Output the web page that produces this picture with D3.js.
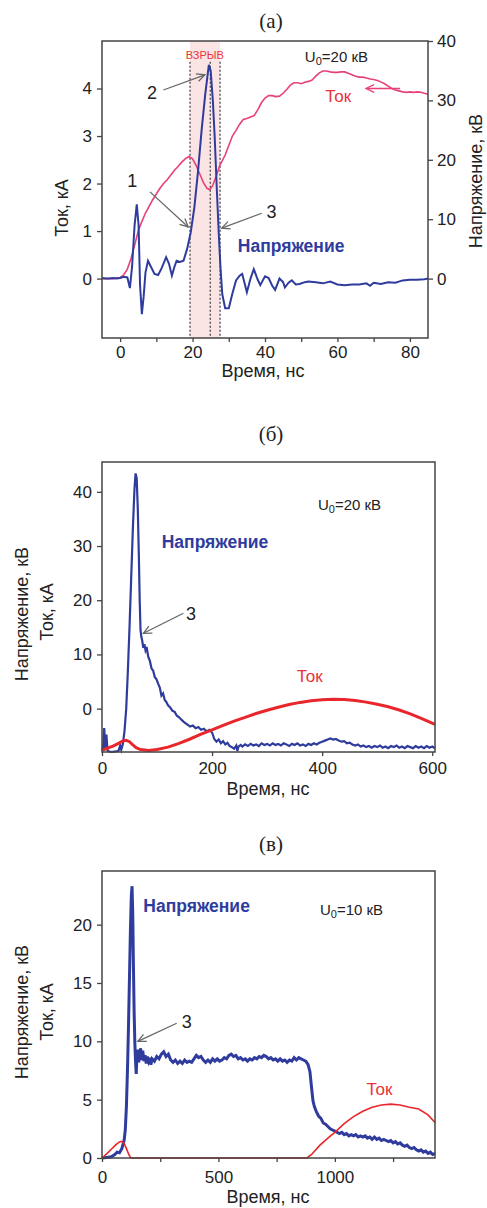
<!DOCTYPE html>
<html>
<head>
<meta charset="utf-8">
<script src="https://cdn.jsdelivr.net/npm/d3@7"></script>
<style>
body { margin: 0; background: #fff; }
svg text { font-family: "Liberation Sans", Arial, sans-serif; }
</style>
</head>
<body>
<div id="chart"></div>
<script>
// ---- panel (а): t [ns] ----
const currentA = [ // [t, kA]
  [-5,0],[-2,0],[0,0.02],[1,0.08],[2,0.2],[3,0.42],[4,0.7],[5,1.0],[6,1.2],[7,1.38],[8,1.52],[9,1.66],
  [10,1.78],[11,1.9],[12,2.0],[13,2.08],[14,2.18],[15,2.28],[16,2.36],[17,2.45],[18,2.52],[19,2.57],
  [20,2.52],[21,2.38],[22,2.2],[23,2.02],[24,1.9],[24.7,1.87],[25.5,1.95],[26.5,2.15],[27.5,2.38],
  [28,2.45],[29,2.6],[30,2.8],[31,3.0],[32,3.12],[33,3.25],[34,3.35],[35,3.37],[36,3.4],[37,3.43],
  [38,3.55],[39,3.7],[40,3.8],[41,3.85],[42,3.85],[43,3.83],[44,3.84],[45,3.9],[46,3.98],[47,4.07],
  [48,4.12],[49,4.12],[50,4.1],[51,4.13],[52,4.15],[53,4.18],[54,4.26],[55,4.33],[56,4.37],[57,4.37],
  [58,4.35],[59,4.34],[60,4.34],[61,4.35],[62,4.35],[63,4.32],[64,4.29],[65,4.26],[66,4.24],[67,4.24],
  [68,4.22],[69,4.2],[70,4.19],[71,4.17],[72,4.14],[73,4.1],[74,4.05],[75,4.0],[76,3.97],[77,3.95],
  [78,3.93],[79,3.92],[80,3.93],[81,3.92],[82,3.93],[83,3.92],[84,3.9],[85,3.88]
];
const voltageA = [ // [t, kV]
  [-5,0.1],[-4,0],[-3,0],[-2,0.1],[-1,0],[0,0.1],[1,0.3],[2,0.2],[2.7,-1.6],[3.3,2],[4,9],[4.6,12.5],
  [5.1,9],[5.5,-1],[6,-6],[6.5,-3],[7,1],[7.7,3],[8.5,2],[9.5,0.8],[10.5,0.6],[11.5,1.8],[12.7,3.6],
  [13.5,2.5],[14.3,0.5],[15,2],[15.6,3],[16.5,2.8],[17.5,3],[18.5,5],[19.5,7.8],[20.5,12],[21.5,18],
  [22.5,25],[23.5,31],[24.5,36],[25,35],[25.6,30],[26.1,24],[26.7,15],[27.2,8],[27.7,2],[28.2,-2.6],
  [29,-5],[30,-5],[31,-2.5],[32,-0.3],[33,0.5],[33.7,0.8],[35,-2.3],[36,0],[36.9,1.6],[38,-0.2],
  [38.7,-1.1],[40,0.4],[41,0.1],[42,-1.2],[42.8,-1.9],[44,0],[45,-0.6],[45.5,-1.5],[46.5,-0.7],
  [47.4,-0.3],[48.5,-1],[49.5,-0.9],[51,-0.6],[52,-0.5],[54,-0.6],[56,-0.8],[58,-0.5],[60,-1],
  [62,-1.1],[64,-1],[66,-1.0],[68,-0.8],[69,-1.2],[70,-0.7],[72,-0.9],[74,-0.6],[76,-0.7],[78,-0.3],
  [80,-0.2],[82,-0.2],[84,-0.1],[85,0]
];
const explosionLines = [19.3, 24.9, 27.6];
const ticksAx = [0, 10, 20, 30, 40, 50, 60, 70, 80];
const ticksAleft = [0, 1, 2, 3, 4];
const ticksAright = [0, 10, 20, 30, 40];

// ---- panel (б) ----
const voltageB = [
  [0,-7.6],[2,-7.2],[4,-3.6],[6,-7.4],[8,-4.8],[10,-7.7],[13,-7.9],[18,-8],[25,-7.9],[30,-7.8],
  [33,-6.8],[35,-7.6],[38,-6.5],[41,-4],[44,0],[47,7],[50,15],[53,24],[56,33],[59,40.5],[61,43.4],
  [63,42.5],[65,37],[67,28],[68.5,20],[70,14.5],[71.5,13.2],[73,12.6],[75,11.2],[77,11.9],[79,10.8],
  [81,11.4],[84,9.6],[87,8.8],[90,7.4],[93,7.0],[96,5.8],[99,5.4],[102,4.6],[105,3.9],[108,2.4],
  [111,2.8],[114,1.6],[117,1.2],[120,0.6],[124,0.2],[128,-0.4],[132,-0.6],[136,-1.3],[140,-1.6],
  [144,-2.0],[148,-2.4],[152,-2.7],[156,-3.0],[160,-3.3],[165,-3.1],[170,-3.6],[175,-3.4],[180,-3.9],
  [185,-3.7],[190,-4.2],[195,-3.9],[200,-4.4],[204,-5.6],[208,-6.1],[212,-5.7],[216,-6.4],[220,-6.0],
  [224,-6.6],[228,-6.3],[232,-6.9],[236,-7.1],[240,-7.4],[244,-6.8],[246,-7.8],[248,-7.0],[252,-6.7],
  [255,-7.0],[260,-6.6],[265,-6.9],[270,-6.5],[275,-6.8],[280,-6.6],[285,-6.9],[290,-6.4],[295,-6.7],
  [300,-6.5],[305,-6.8],[310,-6.4],[315,-6.7],[320,-6.5],[325,-6.8],[330,-6.4],[335,-6.6],[340,-6.9],
  [345,-6.5],[350,-6.7],[355,-6.4],[360,-6.8],[365,-6.6],[370,-6.9],[375,-6.5],[380,-6.7],[385,-6.4],
  [390,-6.6],[395,-6.3],[400,-6.1],[405,-5.9],[410,-5.7],[415,-5.5],[420,-5.7],[425,-5.6],[430,-5.9],
  [435,-6.1],[440,-6.0],[445,-6.4],[450,-6.3],[455,-6.6],[460,-6.8],[465,-6.6],[470,-7.0],[475,-6.8],
  [480,-7.1],[485,-6.9],[490,-7.2],[495,-6.9],[500,-7.1],[505,-6.8],[510,-7.2],[515,-7.0],[520,-7.3],
  [525,-6.9],[530,-7.1],[535,-6.8],[540,-7.2],[545,-7.0],[550,-7.3],[555,-6.9],[560,-7.1],[565,-7.3],
  [570,-6.9],[575,-7.2],[580,-7.0],[585,-7.3],[590,-6.9],[595,-7.2],[600,-7.0],[605,-7.3]
];
const currentB = [
  [0,-7.7],[10,-7.3],[20,-6.9],[30,-6.4],[38,-5.95],[44,-5.85],[50,-6.1],[56,-6.7],[62,-7.2],[70,-7.55],
  [85,-7.7],[100,-7.55],[120,-7.1],[140,-6.4],[160,-5.6],[180,-4.7],[200,-3.9],[220,-3.1],[240,-2.3],
  [260,-1.6],[280,-0.9],[300,-0.3],[320,0.25],[340,0.75],[360,1.15],[380,1.45],[400,1.65],[420,1.72],
  [440,1.68],[460,1.5],[480,1.2],[500,0.8],[520,0.35],[540,-0.25],[560,-0.95],[580,-1.8],[605,-2.9]
];
const ticksBx = [0, 200, 400, 600];
const ticksBy = [0, 10, 20, 30, 40];

// ---- panel (в) ----
const voltageC = [
  [0,0],[20,0.05],[40,0.1],[55,0.3],[65,0.5],[75,0.45],[85,0.8],[95,1.5],[100,2.4],[105,4.5],[110,8],
  [114,11.5],[118,15.5],[122,19.5],[126,22.5],[129,23.3],[132,21],[135,16.5],[138,12.5],[141,9.9],
  [144,8.3],[147,7.2],[150,8.8],[154,9.3],[158,8.2],[162,8.9],[166,9.4],[170,8.4],[175,9.2],[180,8.3],
  [185,8.8],[190,8.1],[195,8.7],[200,8.3],[205,8.6],[210,8.0],[215,8.5],[225,8.3],[235,8.7],[245,8.5],
  [255,8.9],[265,9.1],[275,8.7],[285,8.9],[295,8.4],[305,8.2],[315,8.4],[325,8.1],[335,8.3],[345,8.1],
  [355,8.4],[365,8.2],[375,8.3],[385,8.2],[395,8.5],[405,8.8],[415,8.6],[425,8.7],[435,8.4],[445,8.2],
  [455,8.4],[465,8.2],[475,8.5],[485,8.3],[495,8.5],[505,8.3],[515,8.4],[525,8.6],[535,8.5],[545,8.8],
  [555,8.9],[565,8.7],[575,8.8],[585,8.5],[595,8.6],[605,8.4],[615,8.5],[625,8.3],[635,8.5],[645,8.4],
  [655,8.6],[665,8.5],[675,8.7],[685,8.6],[695,8.8],[705,8.7],[715,8.5],[725,8.6],[735,8.4],[745,8.5],
  [755,8.3],[765,8.5],[775,8.3],[785,8.4],[795,8.2],[805,8.4],[815,8.3],[825,8.6],[835,8.4],[845,8.6],
  [855,8.5],[865,8.4],[875,8.3],[885,8.0],[893,7.4],[900,6.0],[906,4.9],[912,4.4],[920,4.0],[930,3.6],
  [940,3.4],[950,3.0],[960,2.9],[970,2.7],[980,2.5],[990,2.4],[1000,2.3],[1010,2.2],[1020,2.1],
  [1030,2.2],[1040,2.0],[1050,2.1],[1060,1.9],[1070,2.0],[1080,1.9],[1090,2.0],[1100,1.8],[1110,1.9],
  [1120,1.8],[1130,1.9],[1140,1.7],[1150,1.8],[1160,1.6],[1170,1.8],[1180,1.6],[1190,1.7],[1200,1.5],
  [1210,1.6],[1220,1.5],[1230,1.4],[1240,1.5],[1250,1.3],[1260,1.4],[1270,1.2],[1280,1.3],[1290,1.1],
  [1300,1.0],[1310,1.1],[1320,0.9],[1330,0.8],[1340,0.9],[1350,0.7],[1360,0.6],[1370,0.7],[1380,0.5],
  [1390,0.6],[1400,0.4],[1410,0.5],[1420,0.3],[1430,0.4]
];
const currentC = [
  [0,0],[20,0.35],[40,0.75],[60,1.15],[75,1.38],[85,1.42],[95,1.25],[105,0.8],[115,0.3],[122,0.05],
  [130,0],[880,0],[900,0.3],[936,1.1],[970,1.7],[1000,2.2],[1040,2.95],[1080,3.55],[1120,4.0],
  [1160,4.35],[1200,4.55],[1240,4.62],[1280,4.55],[1320,4.35],[1360,4.2],[1400,3.7],[1430,3.05]
];
const ticksCx = [0, 250, 500, 750, 1000, 1250];
const ticksCy = [0, 5, 10, 15, 20];

// colours
const blue = "#2f3c9d", red = "#e8262b", pink = "#e8407a", textRed = "#e8333a", frame = "#444", arrowGrey = "#666";

const svg = d3.select("#chart").append("svg")
    .attr("width", 487)
    .attr("height", 1208)
    .style("background", "#fff");

// gray arrow with open head at (x2, y2)
function arrow(g, x1, y1, x2, y2, color) {
    const a = Math.atan2(y2 - y1, x2 - x1);
    const L = 9, s = 0.45;
    g.append("line").attr("x1", x1).attr("y1", y1).attr("x2", x2).attr("y2", y2)
        .attr("stroke", color).attr("stroke-width", 1.3);
    g.append("path")
        .attr("d", `M${x2 - L * Math.cos(a - s)},${y2 - L * Math.sin(a - s)}L${x2},${y2}L${x2 - L * Math.cos(a + s)},${y2 - L * Math.sin(a + s)}`)
        .attr("fill", "none").attr("stroke", color).attr("stroke-width", 1.3);
}

function styleAxis(sel) {
    sel.select(".domain").remove();
    sel.selectAll(".tick line").attr("stroke", frame).attr("stroke-width", 1.3);
    sel.selectAll(".tick text").attr("fill", "#222").style("font-size", "17px")
        .style("font-family", '"Liberation Sans", Arial, sans-serif');
}

function frameBox(g, x, y) {
    g.append("rect")
        .attr("x", x.range()[0]).attr("y", y.range()[1])
        .attr("width", x.range()[1] - x.range()[0])
        .attr("height", y.range()[0] - y.range()[1])
        .attr("fill", "none").attr("stroke", frame).attr("stroke-width", 1.5);
}

function panelLabel(txt, y) {
    svg.append("text").attr("x", 271).attr("y", y).attr("text-anchor", "middle")
        .style("font-family", '"Liberation Serif", "Times New Roman", serif')
        .style("font-size", "21px").attr("fill", "#222").text(txt);
}

function vTitle(txt, x, y) {
    svg.append("text").attr("transform", `translate(${x},${y}) rotate(-90)`)
        .attr("text-anchor", "middle").style("font-size", "18px").attr("fill", "#222").text(txt);
}

function uLabel(g, x, y, val) {
    const t = g.append("text").attr("x", x).attr("y", y).style("font-size", "15px").attr("fill", "#222");
    t.append("tspan").text("U");
    t.append("tspan").attr("dy", 3).style("font-size", "11px").text("0");
    t.append("tspan").attr("dy", -3).text(`=${val} кВ`);
}

function numLabel(g, x, y, txt) {
    g.append("text").attr("x", x).attr("y", y).style("font-size", "18px").attr("fill", "#222").text(txt);
}

const fmt = d3.format("d");

// ================= panel (а) =================
{
    const g = svg.append("g");
    const x = d3.scaleLinear().domain([-5, 85]).range([102, 428]);
    const yI = d3.scaleLinear().domain([-1.25, 5]).range([338, 41]);
    const yU = d3.scaleLinear().domain([-10, 40]).range([338, 41]);

    panelLabel("(а)", 28);

    // explosion region
    g.append("rect")
        .attr("x", x(explosionLines[0])).attr("y", yU(40))
        .attr("width", x(explosionLines[2]) - x(explosionLines[0]))
        .attr("height", yU(-10) - yU(40))
        .attr("fill", "#fbe4e4");
    g.selectAll(".ex").data(explosionLines).enter().append("line")
        .attr("x1", d => x(d)).attr("x2", d => x(d))
        .attr("y1", yU(36.5)).attr("y2", yU(-10))
        .attr("stroke", "#555").attr("stroke-width", 1.4).attr("stroke-dasharray", "2,2");

    g.append("text").attr("x", x(23.4)).attr("y", yU(36.9)).attr("text-anchor", "middle")
        .style("font-size", "11px").attr("fill", textRed).text("ВЗРЫВ");

    const lineI = d3.line().x(d => x(d[0])).y(d => yI(d[1]));
    const lineU = d3.line().x(d => x(d[0])).y(d => yU(d[1]));
    g.append("path").datum(currentA).attr("d", lineI)
        .attr("fill", "none").attr("stroke", pink).attr("stroke-width", 1.6);
    g.append("path").datum(voltageA).attr("d", lineU)
        .attr("fill", "none").attr("stroke", blue).attr("stroke-width", 2);

    frameBox(g, x, yU);

    g.append("g").attr("transform", "translate(0,338)")
        .call(d3.axisBottom(x).tickValues(ticksAx).tickSize(4).tickPadding(4)
            .tickFormat(d => d % 20 === 0 ? fmt(d) : ""))
        .call(styleAxis);
    g.append("g").attr("transform", "translate(102,0)")
        .call(d3.axisLeft(yI).tickValues(ticksAleft).tickSize(5).tickPadding(5).tickFormat(fmt))
        .call(styleAxis);
    g.append("g").attr("transform", "translate(428,0)")
        .call(d3.axisRight(yU).tickValues(ticksAright).tickSize(5).tickPadding(4).tickFormat(fmt))
        .call(styleAxis);

    // annotations
    uLabel(g, x(51), yU(36.5), 20);
    g.append("text").attr("x", x(56.6)).attr("y", yU(29.8)).style("font-size", "17px")
        .attr("fill", textRed).text("Ток");
    arrow(g, x(77.3), yU(32), x(67.9), yU(32), pink);
    g.append("text").attr("x", x(32.5)).attr("y", yU(4.5)).style("font-size", "17.5px")
        .style("font-weight", "bold").attr("fill", blue).text("Напряжение");

    arrow(g, x(11.95), yU(31.75), x(23.4), yU(34.3), arrowGrey);
    numLabel(g, x(7.4), yU(30.3), "2");
    arrow(g, x(8.25), yU(14.6), x(18.8), yU(8.7), arrowGrey);
    numLabel(g, x(2.0), yU(15.4), "1");
    arrow(g, x(39.1), yU(11), x(28.05), yU(8.5), arrowGrey);
    numLabel(g, x(40.4), yU(10.2), "3");

    vTitle("Ток, кА", 68, 208);
    vTitle("Напряжение, кВ", 482, 181);
    svg.append("text").attr("x", 263).attr("y", 377).attr("text-anchor", "middle")
        .style("font-size", "18px").attr("fill", "#222").text("Время, нс");
}

// ================= panel (б) =================
{
    const g = svg.append("g");
    const x = d3.scaleLinear().domain([0, 605]).range([102, 435]);
    const y = d3.scaleLinear().domain([-8, 45.5]).range([752, 462]);

    panelLabel("(б)", 441);

    const line = d3.line().x(d => x(d[0])).y(d => y(d[1]));
    g.append("path").datum(voltageB).attr("d", line)
        .attr("fill", "none").attr("stroke", blue).attr("stroke-width", 2.2);
    g.append("path").datum(currentB).attr("d", line)
        .attr("fill", "none").attr("stroke", red).attr("stroke-width", 3);

    frameBox(g, x, y);

    g.append("g").attr("transform", "translate(0,752)")
        .call(d3.axisBottom(x).tickValues(ticksBx).tickSize(4).tickPadding(6).tickFormat(fmt))
        .call(styleAxis);
    g.append("g").attr("transform", "translate(102,0)")
        .call(d3.axisLeft(y).tickValues(ticksBy).tickSize(5).tickPadding(5).tickFormat(fmt))
        .call(styleAxis);

    uLabel(g, x(392.4), y(36.6), 20);
    g.append("text").attr("x", x(108.5)).attr("y", y(29.6)).style("font-size", "17.5px")
        .style("font-weight", "bold").attr("fill", blue).text("Напряжение");
    g.append("text").attr("x", x(353.7)).attr("y", y(5.0)).style("font-size", "17px")
        .attr("fill", textRed).text("Ток");
    arrow(g, x(147.9), y(17.6), x(75.2), y(13.9), arrowGrey);
    numLabel(g, x(152.6), y(16.3), "3");

    vTitle("Напряжение, кВ", 28, 614);
    vTitle("Ток, кА", 53, 612);
    svg.append("text").attr("x", 268).attr("y", 795).attr("text-anchor", "middle")
        .style("font-size", "18px").attr("fill", "#222").text("Время, нс");
}

// ================= panel (в) =================
{
    const g = svg.append("g");
    const x = d3.scaleLinear().domain([0, 1430]).range([102, 435]);
    const y = d3.scaleLinear().domain([0, 24.6]).range([1158, 871]);

    panelLabel("(в)", 851);

    const line = d3.line().x(d => x(d[0])).y(d => y(d[1]));
    g.append("path").datum(voltageC).attr("d", line)
        .attr("fill", "none").attr("stroke", blue).attr("stroke-width", 3);
    g.append("path").datum(currentC).attr("d", line)
        .attr("fill", "none").attr("stroke", red).attr("stroke-width", 1.6);

    frameBox(g, x, y);

    g.append("g").attr("transform", "translate(0,1158)")
        .call(d3.axisBottom(x).tickValues(ticksCx).tickSize(4).tickPadding(9)
            .tickFormat(d => d % 500 === 0 ? fmt(d) : ""))
        .call(styleAxis);
    g.append("g").attr("transform", "translate(102,0)")
        .call(d3.axisLeft(y).tickValues(ticksCy).tickSize(5).tickPadding(5).tickFormat(fmt))
        .call(styleAxis);

    uLabel(g, x(936), y(20.8), 10);
    g.append("text").attr("x", x(177.3)).attr("y", y(21.1)).style("font-size", "17.5px")
        .style("font-weight", "bold").attr("fill", blue).text("Напряжение");
    g.append("text").attr("x", x(1136)).attr("y", y(5.4)).style("font-size", "17px")
        .attr("fill", textRed).text("Ток");
    arrow(g, x(320.7), y(11.55), x(153.7), y(10.0), arrowGrey);
    numLabel(g, x(342), y(11.15), "3");

    vTitle("Напряжение, кВ", 28, 1012);
    vTitle("Ток, кА", 53, 1012);
    svg.append("text").attr("x", 268).attr("y", 1203).attr("text-anchor", "middle")
        .style("font-size", "18px").attr("fill", "#222").text("Время, нс");
}
</script>
</body>
</html>
